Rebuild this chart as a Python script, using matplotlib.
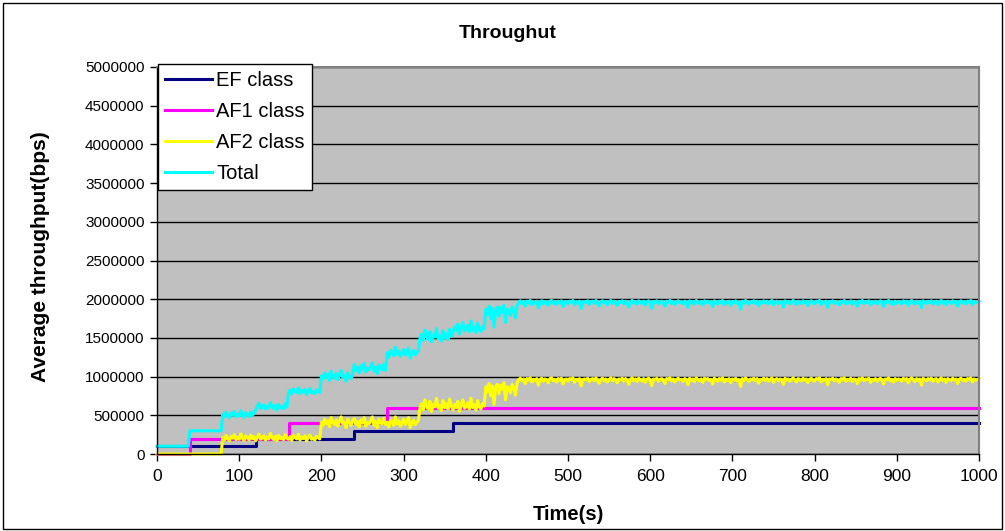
import numpy as np
import matplotlib
matplotlib.use("Agg")
import matplotlib.pyplot as plt
from matplotlib.patches import Rectangle

plt.rcParams["font.family"] = ["Liberation Sans", "DejaVu Sans"]

# constant-rate classes: times (s) where the rate changes and the new rate (bps)
ef_times = [0, 120, 240, 360]
ef_levels = [100000, 200000, 300000, 400000]
af1_times = [0, 40, 160, 280]
af1_levels = [0, 200000, 400000, 600000]

# AF2 measured throughput in kbps, one sample every 2 s from 0 to 1000 s
af2_dt = 2
af2_kbps = [
    0, 0, 0, 0, 0, 0, 0, 0, 0, 0, 0, 0, 0, 0, 0, 0, 0, 0, 0, 0,
    0, 0, 0, 0, 0, 0, 0, 0, 0, 0, 0, 0, 0, 0, 0, 0, 0, 0, 0, 0,
    # 80 s
    210, 180, 240, 195, 170, 230, 205, 250, 185, 215,
    190, 260, 200, 175, 235, 210, 180, 245, 200, 225,
    170, 215, 255, 190, 205, 235, 180, 220, 195, 265,
    210, 185, 230, 170, 240, 200, 215, 185, 250, 205,
    190, 225, 175, 240, 210, 195, 255, 180, 220, 200,
    235, 170, 215, 245, 190, 205, 180, 230, 210, 195,
    # 200 s
    410, 370, 450, 390, 430, 350, 470, 400, 380, 440,
    360, 420, 480, 390, 410, 340, 450, 400, 370, 430,
    460, 380, 420, 350, 440, 400, 470, 360, 410, 390,
    430, 480, 370, 420, 340, 450, 400, 390, 460, 380,
    410, 350, 440, 420, 370, 480, 390, 430, 360, 410,
    450, 380, 420, 470, 340, 400, 440, 380, 410, 430,
    # 320 s
    600, 650, 570, 700, 620, 580, 680, 550, 640, 610,
    720, 590, 630, 560, 690, 600, 650, 580, 710, 620,
    570, 640, 600, 680, 550, 630, 700, 590, 610, 660,
    580, 720, 600, 640, 570, 690, 610, 580, 650, 620,
    # 400 s
    870, 800, 910, 750, 880, 640, 860, 900, 780, 890,
    830, 920, 700, 870, 850, 790, 900, 860, 760, 910,
    # 440 s
    960, 980, 945, 970, 910, 975, 955, 985, 930, 965,
    950, 975, 890, 960, 980, 940, 970, 955, 920, 975,
    985, 945, 965, 930, 975, 950, 980, 905, 960, 970,
    940, 975, 960, 985, 925, 965, 950, 975, 880, 960,
    970, 955, 980, 935, 965, 975, 945, 985, 950, 915,
    965, 980, 950, 970, 930, 960, 985, 945, 975, 955,
    920, 970, 960, 980, 940, 975, 955, 900, 965, 985,
    950, 970, 935, 980, 960, 945, 975, 925, 965, 980,
    955, 885, 970, 960, 980, 940, 965, 975, 950, 910,
    975, 960, 985, 945, 970, 930, 960, 980, 955, 965,
    940, 975, 960, 895, 980, 950, 970, 935, 985, 960,
    945, 970, 925, 980, 960, 975, 950, 965, 905, 980,
    960, 940, 975, 955, 985, 930, 965, 950, 975, 920,
    970, 955, 980, 945, 960, 870, 975, 950, 985, 960,
    935, 970, 960, 980, 945, 975, 915, 965, 955, 980,
    950, 975, 940, 965, 985, 925, 960, 975, 945, 970,
    960, 900, 980, 955, 970, 940, 965, 985, 950, 930,
    975, 960, 945, 980, 955, 970, 920, 965, 980, 950,
    940, 975, 960, 985, 930, 965, 955, 975, 895, 970,
    960, 980, 945, 970, 950, 925, 975, 960, 985, 940,
    965, 950, 980, 935, 970, 960, 910, 975, 955, 985,
    945, 970, 960, 980, 925, 965, 950, 975, 940, 960,
    980, 955, 905, 970, 960, 985, 945, 965, 930, 975,
    950, 970, 960, 940, 980, 955, 975, 920, 965, 985,
    960, 935, 975, 950, 970, 890, 980, 960, 945, 975,
    955, 980, 940, 965, 975, 930, 960, 985, 950, 970,
    925, 975, 960, 945, 980, 955, 970, 910, 965, 980,
    950, 965, 940, 975, 960, 985, 930, 970, 955, 960,
    975,
]

series_labels = ["EF class", "AF1 class", "AF2 class", "Total"]
series_colors = ["#000080", "#FF00FF", "#FFFF00", "#00FFFF"]

# build the per-sample series
t = np.arange(len(af2_kbps)) * af2_dt
ef = np.array(ef_levels)[np.searchsorted(ef_times, t, side="right") - 1]
af1 = np.array(af1_levels)[np.searchsorted(af1_times, t, side="right") - 1]
af2 = np.array(af2_kbps) * 1000
total = ef + af1 + af2

W, H = 1005, 531
fig = plt.figure(figsize=(W / 100, H / 100), dpi=100)
fig.patch.set_facecolor("white")
# chart area border
fig.patches.append(Rectangle((3 / W, 2 / H), 999 / W, 526 / H, transform=fig.transFigure,
                             fill=False, ec="black", lw=1))

ax = fig.add_axes([157 / W, 1 - 454 / H, 822 / W, 387 / H])
ax.set_facecolor("#C0C0C0")

# EF and AF1 change in clean steps, AF2 and the total are noisy
ax.plot(t, ef, color=series_colors[0], lw=2.2, drawstyle="steps-post", label=series_labels[0], clip_on=False)
ax.plot(t, af1, color=series_colors[1], lw=2.2, drawstyle="steps-post", label=series_labels[1], clip_on=False)
ax.plot(t, af2, color=series_colors[2], lw=2.2, label=series_labels[2], clip_on=False)
ax.plot(t, total, color=series_colors[3], lw=2.2, label=series_labels[3], clip_on=False)

ax.set_xlim(0, 1000)
ax.set_ylim(0, 5000000)
ax.set_xticks(np.arange(0, 1001, 100))
ax.set_yticks(np.arange(0, 5000001, 500000))
ax.yaxis.set_major_formatter(matplotlib.ticker.FuncFormatter(lambda v, p: "%d" % v))
ax.grid(axis="y", color="black", lw=1)
ax.set_axisbelow(True)
ax.tick_params(axis="both", direction="out", length=5, width=1, colors="black")
ax.tick_params(axis="y", pad=4, labelsize=11)
ax.tick_params(axis="x", pad=6, labelsize=12.5)
for s in ["left", "bottom"]:
    ax.spines[s].set_color("black")
    ax.spines[s].set_linewidth(1)
for s in ["top", "right"]:
    ax.spines[s].set_color("#808080")
    ax.spines[s].set_linewidth(1.5)

fig.text(0.505, 1 - 33 / H, "Throughut", ha="center", va="center", fontsize=14, fontweight="bold")
fig.text(568 / W, 1 - 514 / H, "Time(s)", ha="center", va="center", fontsize=14.5, fontweight="bold")
fig.text(41 / W, 1 - 257 / H, "Average throughput(bps)", ha="center", va="center",
         rotation=90, fontsize=15, fontweight="bold")

leg = ax.legend(loc="upper left", bbox_to_anchor=(158 / W, 1 - 64 / H), bbox_transform=fig.transFigure,
                borderaxespad=0, fontsize=14.5, handlelength=2.35, handletextpad=0.2,
                labelspacing=0.6, borderpad=0.35, fancybox=False, framealpha=1,
                edgecolor="black", frameon=True)
leg.get_frame().set_linewidth(1)

fig.savefig("out.png", dpi=100)
